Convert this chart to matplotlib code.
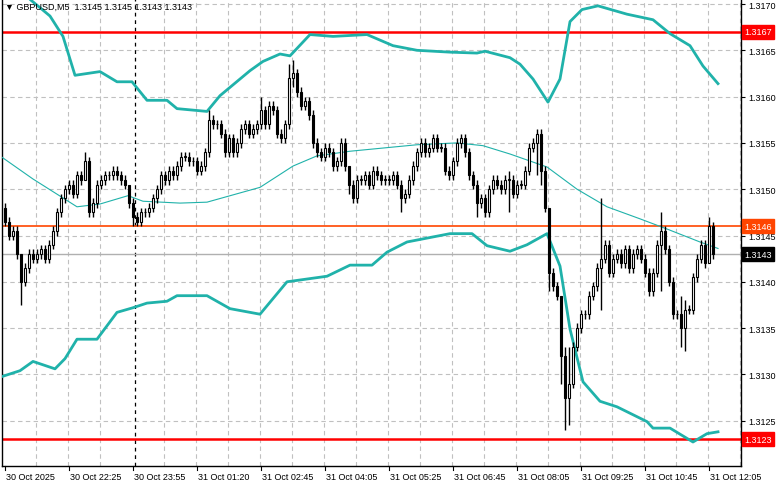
import matplotlib
matplotlib.use("Agg")
import matplotlib.pyplot as plt
from matplotlib.patches import Rectangle
import numpy as np

plt.rcParams["font.family"] = ["Liberation Sans", "DejaVu Sans"]

BASE = 1.3100
PIP = 0.0001

# closes in pips above 1.3100, one per M5 bar
closes = [46.5, 45, 45.5, 43, 40, 41.5, 43, 42.5, 43, 43.5,
          42.5, 44, 45.5, 47.5, 49, 50, 50.5, 49.5, 51.5, 51,
          53, 47.5, 48.5, 50.5, 51, 51.5, 51.5, 52, 51.5, 51,
          50.5, 48.5, 47, 46.5, 47.5, 47.5, 48, 49, 50, 51.5,
          51, 52, 51.5, 52.5, 53.5, 53.5, 53, 53, 52, 52.5,
          54, 57.5, 57, 57, 56, 54, 55.5, 54, 55, 56.5,
          57, 56, 56.5, 57, 58.5, 57, 59, 58.5, 56, 55.5,
          57, 62, 62.5, 60.5, 59, 59.5, 58, 55, 54, 53.5,
          54.5, 54, 52.5, 53, 55, 52.5, 50.5, 49, 51, 51,
          51.5, 50.5, 52, 51.5, 51, 51, 51, 51.5, 50.5, 49,
          49.5, 51, 52.5, 54, 55, 54, 54.5, 55.5, 54.5, 54.5,
          52, 51.5, 53, 55, 55.5, 54, 51.5, 50.5, 48.5, 49,
          47.5, 50, 51, 50.5, 50, 51, 51, 49.5, 50.5, 50.5,
          52, 54.5, 55, 56, 52, 48, 41, 39.5, 38.5, 32,
          27.5, 29, 33, 35, 36.5, 36.5, 38.5, 39.5, 41.5, 42.5,
          44, 41, 42.5, 43, 42, 43.5, 41.5, 43, 43.5, 42.5,
          41, 39, 41, 44, 45.5, 43.5, 40, 36.5, 36.5, 35,
          37, 37, 40.5, 42.5, 44, 42, 46, 43]
first_open = 48.0
# bars with notable wicks: index -> (high, low) in pips
wicks = {4: (41.5, 37.5), 20: (54, 52), 21: (53.5, 47), 31: (50.5, 48), 32: (49, 46),
         51: (58.5, 53.5), 64: (60, 56.5), 71: (63.5, 56.5), 72: (64, 61),
         86: (52, 49.5), 99: (51, 47.5), 118: (51, 47), 120: (49.5, 47), 126: (52, 47.5),
         133: (56.5, 51.5), 134: (56.5, 50.5), 136: (47.5, 39), 139: (38.5, 29),
         140: (33, 24), 141: (33, 24.5), 149: (49, 37), 164: (47.5, 39), 169: (38.5, 33),
         170: (38, 32.5), 176: (47, 42)}

# Bollinger band readings: (bar index, pips above 1.3100)
upper_i = [-1.25, 6.25, 11.25, 14.5, 17.5, 23.75, 28, 31.75, 35.5, 40.5, 43, 50.5, 53.75,
           61.25, 64.5, 68.75, 71.25, 76.25, 82, 90.5, 97, 103, 111.25, 118, 120, 126.25,
           128.75, 132, 135.75, 138.75, 141.25, 144.25, 148.25, 155.5, 162, 166.25, 171.25,
           174.5, 178.25]
upper_p = [78, 70.5, 68.7, 66.5, 62.3, 62.7, 61.6, 61.6, 59.6, 59.6, 58.7, 58.4, 60.1,
           62.8, 63.8, 64.6, 64.4, 66.7, 66.5, 66.7, 65.5, 65.0, 64.8, 64.7, 64.9, 64.2,
           63.5, 61.9, 59.4, 61.9, 68.1, 69.4, 69.8, 68.9, 68.3, 66.8, 65.5,
           63.3, 61.4]
mid_i = [-1.25, 7, 18, 23.75, 30.75, 34.5, 43.75, 50.5, 63.75, 72, 78, 86.25, 103, 113,
         119.5, 126.25, 135.5, 143, 150.5, 158.75, 165.5, 173.75, 178.25]
mid_p = [53.6, 51.1, 48.1, 48.4, 49.3, 48.7, 48.5, 48.6, 50.2, 52.5, 53.6, 54.1, 54.8, 55.0,
         54.7, 53.8, 52.4, 50.0, 48.1, 46.8, 45.7, 44.3, 43.6]
lower_i = [-1.25, 3.75, 7, 12.5, 15, 18, 23, 28, 32, 35.5, 40.5, 43, 50.5, 56.25, 63.75,
           70.5, 80.5, 86.25, 91.75, 95.5, 100.5, 111.25, 116.75, 120.5, 126.25, 130.5,
           135.5, 138.75, 141.25, 144.5, 148.75, 153, 160.5, 162, 166.25, 172, 175.5, 178.25]
lower_p = [29.7, 30.4, 31.4, 30.6, 31.7, 33.8, 33.8, 36.7, 37.2, 37.7, 37.9, 38.5, 38.5, 37.1,
           36.5, 40.0, 40.6, 41.8, 41.8, 43.2, 44.3, 45.2, 45.2, 43.9, 43.3, 44.0,
           45.2, 41.7, 34.9, 29.2, 27.1, 26.5, 24.9, 24.2, 24.2, 22.7, 23.6, 23.8]

levels_red = [1.3167, 1.3123]
level_orange = 1.3146
bid = 1.3143
time_labels = ["30 Oct 2025", "30 Oct 22:25", "30 Oct 23:55", "31 Oct 01:20", "31 Oct 02:45",
               "31 Oct 04:05", "31 Oct 05:25", "31 Oct 06:45", "31 Oct 08:05", "31 Oct 09:25",
               "31 Oct 10:45", "31 Oct 12:05"]
price_ticks = [1.3125, 1.3130, 1.3135, 1.3140, 1.3145, 1.3150, 1.3155, 1.3160, 1.3165, 1.3170]

c = BASE + np.array(closes) * PIP
o = np.concatenate([[BASE + first_open * PIP], c[:-1]])
hi = np.maximum(o, c) + 0.5 * PIP
lo = np.minimum(o, c) - 0.5 * PIP
for k, (h, l) in wicks.items():
    hi[k] = BASE + h * PIP
    lo[k] = BASE + l * PIP
n = len(c)

fig = plt.figure(figsize=(7.81, 4.89), dpi=100)
ax = fig.add_axes([2 / 781, 22 / 489, 739 / 781, 467 / 489])
ymin = 1.3170 - 462 / 92600
ymax = 1.3170 + 5 / 92600
ax.set_ylim(ymin, ymax)
ax.set_xlim(-0.75, 184)

for g in price_ticks:
    ax.axhline(g, color="#c0c0c0", lw=0.8, ls=(0, (4, 3)), zorder=0)
for gx in np.arange(7.75, 184, 8):
    if abs(gx - 31.75) > 0.1:
        ax.axvline(gx, color="#c0c0c0", lw=0.8, ls=(0, (4, 3)), zorder=0)
ax.axvline(32.5, color="black", lw=0.9, ls=(0, (3, 3)), zorder=1)

ax.axhline(bid, color="#b0b0b0", lw=1, zorder=1)
ax.axhline(level_orange, color="#ff4500", lw=1.2, zorder=2)
for lv in levels_red:
    ax.axhline(lv, color="#ff0000", lw=1.8, zorder=2)

ax.plot(upper_i, BASE + np.array(upper_p) * PIP, color="#20b2aa", lw=2, zorder=3)
ax.plot(lower_i, BASE + np.array(lower_p) * PIP, color="#20b2aa", lw=2, zorder=3)
ax.plot(mid_i, BASE + np.array(mid_p) * PIP, color="#20b2aa", lw=0.8, zorder=3)

w = 0.7
for i in range(n):
    ax.vlines(i, lo[i], hi[i], color="black", lw=1, zorder=4)
    b0, b1 = min(o[i], c[i]), max(o[i], c[i])
    face = "black" if c[i] < o[i] else "white"
    ax.add_patch(Rectangle((i - w / 2, b0), w, max(b1 - b0, 0.05 * PIP),
                           facecolor=face, edgecolor="black", lw=0.8, zorder=5))

ax.set_xticks([])
ax.yaxis.tick_right()
ax.set_yticks(price_ticks)
ax.set_yticklabels([f"{p:.4f}" for p in price_ticks], fontsize=6.5)
ax.tick_params(axis="y", length=3, pad=2)
ax.spines["top"].set_visible(False)
for s in ["left", "right", "bottom"]:
    ax.spines[s].set_linewidth(1)

for k, lab in enumerate(time_labels):
    xi = 16 * k
    ax.plot([xi, xi], [ymin, ymin - 0.00004], color="black", lw=0.8, clip_on=False)
    ax.text(xi + 0.2, ymin - 0.00006, lab, fontsize=6.5, ha="left", va="top")


def tag(price, bg):
    ax.text(184.8, price, f"{price:.4f}", fontsize=6.5, color="white", ha="left", va="center",
            bbox=dict(boxstyle="square,pad=0.25", fc=bg, ec=bg), clip_on=False, zorder=6)


for lv in levels_red:
    tag(lv, "#ff0000")
tag(level_orange, "#ff4500")
tag(bid, "#000000")

ax.text(0.004, 0.995, "▼ GBPUSD,M5  1.3145 1.3145 1.3143 1.3143", transform=ax.transAxes,
        fontsize=6.5, ha="left", va="top", zorder=7)

fig.savefig("out.png", dpi=100, facecolor="white")
